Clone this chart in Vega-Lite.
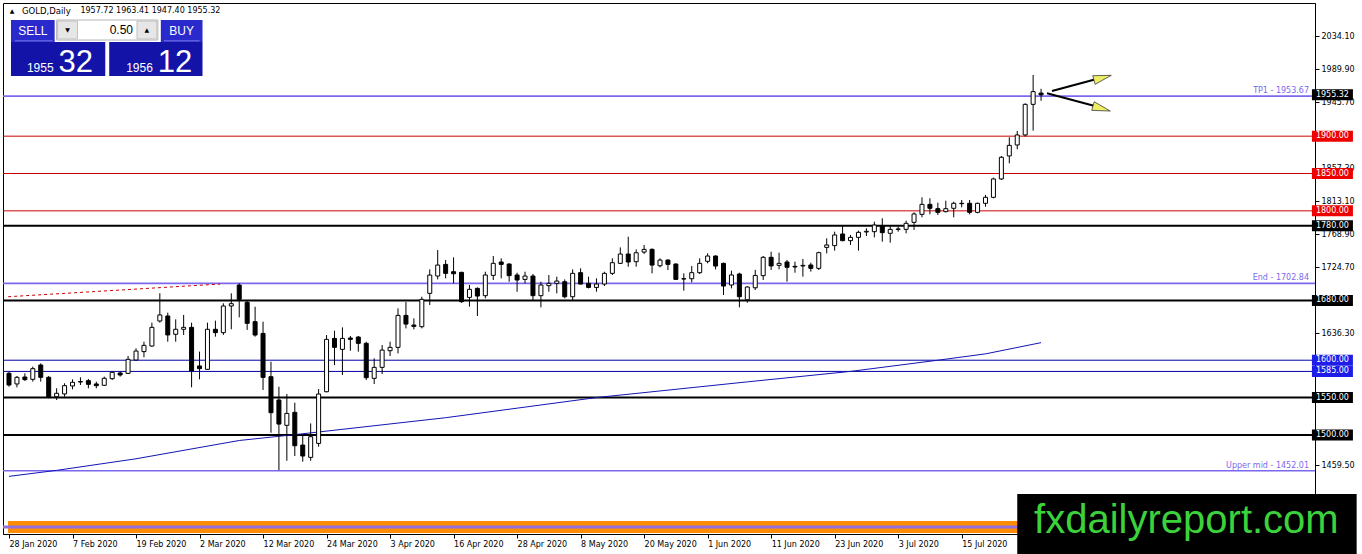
{
  "$schema": "https://vega.github.io/schema/vega-lite/v6.json",
  "width": 1312,
  "height": 531,
  "autosize": {"type": "none"},
  "padding": {"left": 3, "top": 3, "right": 47, "bottom": 20},
  "background": "#ffffff",
  "resolve": {"axis": {"x": "independent", "y": "independent"}},
  "datasets": {
    "candles": [
      {"d": "2020-01-28", "i": 0, "o": 1582.5, "h": 1584.7, "l": 1564.6, "c": 1566.8},
      {"d": "2020-01-29", "i": 1, "o": 1568.2, "h": 1578.9, "l": 1563.7, "c": 1577.1},
      {"d": "2020-01-30", "i": 2, "o": 1577.5, "h": 1582.4, "l": 1572.2, "c": 1574.0},
      {"d": "2020-01-31", "i": 3, "o": 1574.4, "h": 1591.4, "l": 1571.3, "c": 1588.7},
      {"d": "2020-02-03", "i": 4, "o": 1593.6, "h": 1595.8, "l": 1571.3, "c": 1577.1},
      {"d": "2020-02-04", "i": 5, "o": 1577.1, "h": 1578.9, "l": 1549.0, "c": 1550.3},
      {"d": "2020-02-05", "i": 6, "o": 1551.2, "h": 1562.4, "l": 1546.7, "c": 1555.7},
      {"d": "2020-02-06", "i": 7, "o": 1554.8, "h": 1569.1, "l": 1551.2, "c": 1565.9},
      {"d": "2020-02-07", "i": 8, "o": 1565.5, "h": 1574.4, "l": 1561.0, "c": 1570.4},
      {"d": "2020-02-10", "i": 9, "o": 1571.3, "h": 1577.1, "l": 1566.8, "c": 1570.8},
      {"d": "2020-02-11", "i": 10, "o": 1572.6, "h": 1574.9, "l": 1562.4, "c": 1567.7},
      {"d": "2020-02-12", "i": 11, "o": 1568.2, "h": 1571.3, "l": 1562.4, "c": 1565.9},
      {"d": "2020-02-13", "i": 12, "o": 1566.4, "h": 1578.0, "l": 1565.5, "c": 1575.8},
      {"d": "2020-02-14", "i": 13, "o": 1575.3, "h": 1584.7, "l": 1573.5, "c": 1583.8},
      {"d": "2020-02-17", "i": 14, "o": 1582.9, "h": 1584.7, "l": 1578.0, "c": 1580.2},
      {"d": "2020-02-18", "i": 15, "o": 1582.4, "h": 1605.7, "l": 1581.6, "c": 1601.2},
      {"d": "2020-02-19", "i": 16, "o": 1600.3, "h": 1615.9, "l": 1599.4, "c": 1612.3},
      {"d": "2020-02-20", "i": 17, "o": 1611.5, "h": 1624.8, "l": 1603.9, "c": 1619.9},
      {"d": "2020-02-21", "i": 18, "o": 1619.0, "h": 1650.3, "l": 1618.1, "c": 1644.0},
      {"d": "2020-02-24", "i": 19, "o": 1652.5, "h": 1689.6, "l": 1650.3, "c": 1660.6},
      {"d": "2020-02-25", "i": 20, "o": 1659.2, "h": 1663.7, "l": 1624.8, "c": 1633.8},
      {"d": "2020-02-26", "i": 21, "o": 1634.7, "h": 1654.7, "l": 1624.8, "c": 1641.4},
      {"d": "2020-02-27", "i": 22, "o": 1641.4, "h": 1660.6, "l": 1633.8, "c": 1644.0},
      {"d": "2020-02-28", "i": 23, "o": 1644.0, "h": 1650.3, "l": 1563.7, "c": 1585.6},
      {"d": "2020-03-02", "i": 24, "o": 1592.3, "h": 1611.5, "l": 1574.4, "c": 1588.7},
      {"d": "2020-03-03", "i": 25, "o": 1587.8, "h": 1650.3, "l": 1586.9, "c": 1641.4},
      {"d": "2020-03-04", "i": 26, "o": 1641.4, "h": 1653.0, "l": 1631.5, "c": 1636.9},
      {"d": "2020-03-05", "i": 27, "o": 1636.9, "h": 1676.2, "l": 1633.8, "c": 1672.6},
      {"d": "2020-03-06", "i": 28, "o": 1672.6, "h": 1689.6, "l": 1641.4, "c": 1675.7},
      {"d": "2020-03-09", "i": 29, "o": 1700.7, "h": 1703.0, "l": 1657.4, "c": 1681.5},
      {"d": "2020-03-10", "i": 30, "o": 1677.5, "h": 1680.6, "l": 1640.5, "c": 1649.4},
      {"d": "2020-03-11", "i": 31, "o": 1651.6, "h": 1671.6, "l": 1631.5, "c": 1633.7},
      {"d": "2020-03-12", "i": 32, "o": 1635.9, "h": 1651.6, "l": 1560.1, "c": 1577.0},
      {"d": "2020-03-13", "i": 33, "o": 1577.9, "h": 1598.0, "l": 1502.9, "c": 1529.7},
      {"d": "2020-03-16", "i": 34, "o": 1546.7, "h": 1564.5, "l": 1452.9, "c": 1514.5},
      {"d": "2020-03-17", "i": 35, "o": 1512.8, "h": 1554.7, "l": 1465.4, "c": 1528.8},
      {"d": "2020-03-18", "i": 36, "o": 1530.2, "h": 1543.1, "l": 1471.7, "c": 1485.5},
      {"d": "2020-03-19", "i": 37, "o": 1486.4, "h": 1499.8, "l": 1464.1, "c": 1471.7},
      {"d": "2020-03-20", "i": 38, "o": 1469.9, "h": 1515.4, "l": 1465.4, "c": 1497.6},
      {"d": "2020-03-23", "i": 39, "o": 1488.6, "h": 1561.4, "l": 1484.2, "c": 1554.7},
      {"d": "2020-03-24", "i": 40, "o": 1557.8, "h": 1633.7, "l": 1557.0, "c": 1627.9},
      {"d": "2020-03-25", "i": 41, "o": 1629.2, "h": 1639.5, "l": 1593.5, "c": 1617.2},
      {"d": "2020-03-26", "i": 42, "o": 1614.5, "h": 1644.0, "l": 1580.2, "c": 1629.2},
      {"d": "2020-03-27", "i": 43, "o": 1629.7, "h": 1632.4, "l": 1612.7, "c": 1627.9},
      {"d": "2020-03-30", "i": 44, "o": 1631.0, "h": 1632.4, "l": 1611.4, "c": 1622.6},
      {"d": "2020-03-31", "i": 45, "o": 1622.6, "h": 1624.8, "l": 1573.5, "c": 1576.6},
      {"d": "2020-04-01", "i": 46, "o": 1575.7, "h": 1602.5, "l": 1568.1, "c": 1590.4},
      {"d": "2020-04-02", "i": 47, "o": 1590.4, "h": 1620.3, "l": 1581.5, "c": 1613.6},
      {"d": "2020-04-03", "i": 48, "o": 1612.7, "h": 1624.8, "l": 1605.6, "c": 1617.2},
      {"d": "2020-04-06", "i": 49, "o": 1617.2, "h": 1669.4, "l": 1609.1, "c": 1660.0},
      {"d": "2020-04-07", "i": 50, "o": 1660.0, "h": 1677.9, "l": 1642.6, "c": 1648.4},
      {"d": "2020-04-08", "i": 51, "o": 1647.1, "h": 1656.0, "l": 1641.3, "c": 1645.3},
      {"d": "2020-04-09", "i": 52, "o": 1644.9, "h": 1685.0, "l": 1642.6, "c": 1681.5},
      {"d": "2020-04-13", "i": 53, "o": 1689.5, "h": 1721.6, "l": 1673.9, "c": 1714.0},
      {"d": "2020-04-14", "i": 54, "o": 1712.7, "h": 1747.5, "l": 1708.2, "c": 1727.4},
      {"d": "2020-04-15", "i": 55, "o": 1728.3, "h": 1734.1, "l": 1709.6, "c": 1716.3},
      {"d": "2020-04-16", "i": 56, "o": 1718.5, "h": 1737.7, "l": 1702.9, "c": 1715.8},
      {"d": "2020-04-17", "i": 57, "o": 1717.6, "h": 1718.5, "l": 1677.0, "c": 1678.3},
      {"d": "2020-04-20", "i": 58, "o": 1684.1, "h": 1700.7, "l": 1671.7, "c": 1694.9},
      {"d": "2020-04-21", "i": 59, "o": 1696.2, "h": 1697.5, "l": 1659.2, "c": 1685.9},
      {"d": "2020-04-22", "i": 60, "o": 1686.4, "h": 1718.5, "l": 1682.8, "c": 1714.1},
      {"d": "2020-04-23", "i": 61, "o": 1713.6, "h": 1739.5, "l": 1707.4, "c": 1729.7},
      {"d": "2020-04-24", "i": 62, "o": 1731.5, "h": 1736.4, "l": 1709.6, "c": 1728.3},
      {"d": "2020-04-27", "i": 63, "o": 1728.8, "h": 1729.7, "l": 1705.1, "c": 1713.2},
      {"d": "2020-04-28", "i": 64, "o": 1714.1, "h": 1717.2, "l": 1691.7, "c": 1707.4},
      {"d": "2020-04-29", "i": 65, "o": 1708.2, "h": 1718.5, "l": 1702.9, "c": 1712.7},
      {"d": "2020-04-30", "i": 66, "o": 1712.7, "h": 1715.4, "l": 1680.6, "c": 1686.4},
      {"d": "2020-05-01", "i": 67, "o": 1686.4, "h": 1705.1, "l": 1670.8, "c": 1700.7},
      {"d": "2020-05-04", "i": 68, "o": 1699.8, "h": 1714.1, "l": 1691.7, "c": 1702.9},
      {"d": "2020-05-05", "i": 69, "o": 1702.9, "h": 1711.8, "l": 1689.5, "c": 1706.0},
      {"d": "2020-05-06", "i": 70, "o": 1705.1, "h": 1708.2, "l": 1682.8, "c": 1685.0},
      {"d": "2020-05-07", "i": 71, "o": 1685.0, "h": 1721.6, "l": 1680.6, "c": 1716.3},
      {"d": "2020-05-08", "i": 72, "o": 1717.2, "h": 1723.0, "l": 1701.6, "c": 1702.0},
      {"d": "2020-05-11", "i": 73, "o": 1702.9, "h": 1711.8, "l": 1696.2, "c": 1697.5},
      {"d": "2020-05-12", "i": 74, "o": 1697.5, "h": 1709.6, "l": 1691.7, "c": 1702.0},
      {"d": "2020-05-13", "i": 75, "o": 1702.0, "h": 1718.5, "l": 1699.3, "c": 1716.3},
      {"d": "2020-05-14", "i": 76, "o": 1716.3, "h": 1736.4, "l": 1714.1, "c": 1730.6},
      {"d": "2020-05-15", "i": 77, "o": 1729.7, "h": 1751.1, "l": 1728.8, "c": 1742.2},
      {"d": "2020-05-18", "i": 78, "o": 1742.2, "h": 1765.4, "l": 1725.2, "c": 1731.5},
      {"d": "2020-05-19", "i": 79, "o": 1731.9, "h": 1748.4, "l": 1725.2, "c": 1743.9},
      {"d": "2020-05-20", "i": 80, "o": 1744.8, "h": 1754.2, "l": 1742.2, "c": 1748.4},
      {"d": "2020-05-21", "i": 81, "o": 1748.4, "h": 1749.8, "l": 1716.3, "c": 1727.4},
      {"d": "2020-05-22", "i": 82, "o": 1726.5, "h": 1736.4, "l": 1724.3, "c": 1734.1},
      {"d": "2020-05-25", "i": 83, "o": 1734.1, "h": 1735.0, "l": 1720.7, "c": 1728.3},
      {"d": "2020-05-26", "i": 84, "o": 1728.8, "h": 1729.7, "l": 1707.4, "c": 1708.2},
      {"d": "2020-05-27", "i": 85, "o": 1709.1, "h": 1716.3, "l": 1693.1, "c": 1708.7},
      {"d": "2020-05-28", "i": 86, "o": 1709.1, "h": 1726.1, "l": 1704.2, "c": 1717.2},
      {"d": "2020-05-29", "i": 87, "o": 1717.2, "h": 1736.4, "l": 1715.4, "c": 1729.7},
      {"d": "2020-06-01", "i": 88, "o": 1732.4, "h": 1743.1, "l": 1729.7, "c": 1739.5},
      {"d": "2020-06-02", "i": 89, "o": 1739.5, "h": 1740.4, "l": 1721.6, "c": 1726.1},
      {"d": "2020-06-03", "i": 90, "o": 1729.7, "h": 1730.6, "l": 1687.3, "c": 1699.3},
      {"d": "2020-06-04", "i": 91, "o": 1700.7, "h": 1719.9, "l": 1696.2, "c": 1714.1},
      {"d": "2020-06-05", "i": 92, "o": 1715.4, "h": 1717.2, "l": 1670.8, "c": 1685.0},
      {"d": "2020-06-08", "i": 93, "o": 1681.0, "h": 1699.0, "l": 1677.0, "c": 1698.0},
      {"d": "2020-06-09", "i": 94, "o": 1697.0, "h": 1721.0, "l": 1694.0, "c": 1713.5},
      {"d": "2020-06-10", "i": 95, "o": 1713.2, "h": 1739.5, "l": 1707.4, "c": 1737.8},
      {"d": "2020-06-11", "i": 96, "o": 1737.8, "h": 1745.3, "l": 1720.8, "c": 1726.2},
      {"d": "2020-06-12", "i": 97, "o": 1727.0, "h": 1744.0, "l": 1721.7, "c": 1729.7},
      {"d": "2020-06-15", "i": 98, "o": 1731.5, "h": 1734.2, "l": 1705.2, "c": 1724.4},
      {"d": "2020-06-16", "i": 99, "o": 1725.7, "h": 1732.0, "l": 1717.2, "c": 1724.8},
      {"d": "2020-06-17", "i": 100, "o": 1726.2, "h": 1735.5, "l": 1711.9, "c": 1727.0},
      {"d": "2020-06-18", "i": 101, "o": 1727.5, "h": 1730.6, "l": 1718.6, "c": 1723.0},
      {"d": "2020-06-19", "i": 102, "o": 1723.0, "h": 1745.3, "l": 1720.8, "c": 1744.0},
      {"d": "2020-06-22", "i": 103, "o": 1751.1, "h": 1763.2, "l": 1743.1, "c": 1754.3},
      {"d": "2020-06-23", "i": 104, "o": 1753.4, "h": 1772.1, "l": 1746.7, "c": 1767.7},
      {"d": "2020-06-24", "i": 105, "o": 1769.0, "h": 1781.0, "l": 1759.2, "c": 1760.1},
      {"d": "2020-06-25", "i": 106, "o": 1760.1, "h": 1767.7, "l": 1754.3, "c": 1764.5},
      {"d": "2020-06-26", "i": 107, "o": 1764.5, "h": 1773.5, "l": 1746.7, "c": 1771.2},
      {"d": "2020-06-29", "i": 108, "o": 1771.7, "h": 1776.6, "l": 1766.3, "c": 1772.6},
      {"d": "2020-06-30", "i": 109, "o": 1772.1, "h": 1785.5, "l": 1764.5, "c": 1781.0},
      {"d": "2020-07-01", "i": 110, "o": 1779.7, "h": 1790.0, "l": 1758.7, "c": 1770.8},
      {"d": "2020-07-02", "i": 111, "o": 1769.9, "h": 1779.7, "l": 1757.4, "c": 1775.2},
      {"d": "2020-07-03", "i": 112, "o": 1775.2, "h": 1778.8, "l": 1772.1, "c": 1775.7},
      {"d": "2020-07-06", "i": 113, "o": 1775.2, "h": 1786.9, "l": 1769.9, "c": 1783.3},
      {"d": "2020-07-07", "i": 114, "o": 1784.6, "h": 1798.0, "l": 1774.4, "c": 1795.8},
      {"d": "2020-07-08", "i": 115, "o": 1795.3, "h": 1818.1, "l": 1791.3, "c": 1808.7},
      {"d": "2020-07-09", "i": 116, "o": 1808.7, "h": 1816.8, "l": 1795.3, "c": 1803.4},
      {"d": "2020-07-10", "i": 117, "o": 1802.9, "h": 1810.9, "l": 1794.4, "c": 1798.0},
      {"d": "2020-07-13", "i": 118, "o": 1798.9, "h": 1813.6, "l": 1798.0, "c": 1802.9},
      {"d": "2020-07-14", "i": 119, "o": 1803.4, "h": 1812.3, "l": 1791.3, "c": 1810.1},
      {"d": "2020-07-15", "i": 120, "o": 1810.1, "h": 1814.5, "l": 1804.7, "c": 1809.6},
      {"d": "2020-07-16", "i": 121, "o": 1810.1, "h": 1814.5, "l": 1795.3, "c": 1798.0},
      {"d": "2020-07-17", "i": 122, "o": 1798.0, "h": 1810.9, "l": 1796.7, "c": 1810.1},
      {"d": "2020-07-20", "i": 123, "o": 1810.1, "h": 1821.3, "l": 1805.6, "c": 1818.1},
      {"d": "2020-07-21", "i": 124, "o": 1818.1, "h": 1844.5, "l": 1816.8, "c": 1842.7},
      {"d": "2020-07-22", "i": 125, "o": 1842.7, "h": 1873.5, "l": 1841.3, "c": 1871.7},
      {"d": "2020-07-23", "i": 126, "o": 1873.5, "h": 1898.5, "l": 1863.6, "c": 1887.7},
      {"d": "2020-07-24", "i": 127, "o": 1888.2, "h": 1906.9, "l": 1882.4, "c": 1901.6},
      {"d": "2020-07-27", "i": 128, "o": 1901.6, "h": 1944.0, "l": 1899.4, "c": 1942.6},
      {"d": "2020-07-28", "i": 129, "o": 1942.6, "h": 1981.9, "l": 1907.4, "c": 1959.6},
      {"d": "2020-07-29", "i": 130, "o": 1957.72, "h": 1963.41, "l": 1947.4, "c": 1955.32}
    ],
    "levels": [
      {"p": 1953.67, "kind": "fib", "label": "TP1 - 1953.67"},
      {"p": 1702.84, "kind": "fib", "label": "End - 1702.84"},
      {"p": 1452.01, "kind": "fib", "label": "Upper mid - 1452.01"},
      {"p": 1900, "kind": "resistance", "label": ""},
      {"p": 1850, "kind": "resistance", "label": ""},
      {"p": 1800, "kind": "resistance", "label": ""},
      {"p": 1780, "kind": "key", "label": ""},
      {"p": 1680, "kind": "key", "label": ""},
      {"p": 1550, "kind": "key", "label": ""},
      {"p": 1500, "kind": "key", "label": ""},
      {"p": 1600, "kind": "support", "label": ""},
      {"p": 1585, "kind": "support", "label": ""}
    ],
    "tags": [
      {"p": 1955.32, "kind": "price"},
      {"p": 1900, "kind": "resistance"},
      {"p": 1850, "kind": "resistance"},
      {"p": 1800, "kind": "resistance"},
      {"p": 1780, "kind": "key"},
      {"p": 1680, "kind": "key"},
      {"p": 1600, "kind": "support"},
      {"p": 1585, "kind": "support"},
      {"p": 1550, "kind": "key"},
      {"p": 1500, "kind": "key"}
    ],
    "ma": [
      {"i": 0, "ma": 1444.5},
      {"i": 6, "ma": 1452.5},
      {"i": 16, "ma": 1468},
      {"i": 29, "ma": 1492.5},
      {"i": 37, "ma": 1501.5},
      {"i": 55, "ma": 1523},
      {"i": 74, "ma": 1550},
      {"i": 93, "ma": 1571},
      {"i": 106, "ma": 1585},
      {"i": 117, "ma": 1600},
      {"i": 123, "ma": 1608.5},
      {"i": 130, "ma": 1623.5}
    ],
    "trend": [
      {"i": -0.1, "p": 1685.0},
      {"i": 26.6, "p": 1702.0}
    ],
    "band": [
      {"lo": 1368.7, "hi": 1384.7, "mid": 1376.6}
    ],
    "one": [{"n": 1}]
  },
  "layer": [
    {
      "data": {"name": "candles"},
      "mark": {"type": "rule", "stroke": "#000000", "strokeWidth": 1, "opacity": 0},
      "encoding": {
        "x": {
          "field": "i", "type": "quantitative",
          "scale": {"domain": [-0.125, 163.875], "nice": false, "zero": false},
          "axis": {
            "orient": "bottom",
            "title": null,
            "values": [0, 8, 16, 24, 32, 40, 48, 56, 64, 72, 80, 88, 96, 104, 112, 120],
            "labelExpr": "['28 Jan 2020','7 Feb 2020','19 Feb 2020','2 Mar 2020','12 Mar 2020','24 Mar 2020','3 Apr 2020','16 Apr 2020','28 Apr 2020','8 May 2020','20 May 2020','1 Jun 2020','11 Jun 2020','23 Jun 2020','3 Jul 2020','15 Jul 2020'][round(datum.value / 8)]",
            "labelAlign": "left",
            "labelBaseline": "top",
            "labelPadding": 2,
            "labelDx": -1,
            "labelFont": "DejaVu Sans",
            "labelFontSize": 8,
            "labelColor": "#000000",
            "labelFlush": false,
            "labelOverlap": false,
            "labelBound": false,
            "tickSize": 4,
            "tickColor": "#000000",
            "domainColor": "#000000",
            "grid": false
          }
        },
        "y": {
          "field": "l", "type": "quantitative",
          "scale": {"domain": [1367.3, 2078.3], "nice": false, "zero": false},
          "axis": {
            "orient": "right",
            "title": null,
            "values": [2034.1, 1989.9, 1945.7, 1857.3, 1813.1, 1768.9, 1724.7, 1636.3, 1459.5, 1415.3],
            "format": ".2f",
            "labelAlign": "left",
            "labelPadding": 2,
            "labelFont": "DejaVu Sans",
            "labelFontSize": 8,
            "labelColor": "#000000",
            "labelFlush": false,
            "labelOverlap": false,
            "tickSize": 4,
            "tickColor": "#000000",
            "domainColor": "#000000",
            "grid": false
          }
        },
        "y2": {"field": "h"}
      }
    },
    {
      "data": {"name": "band"},
      "mark": {"type": "rect", "fill": "#ff8c00"},
      "encoding": {
        "x": {"datum": -0.125, "axis": null},
        "x2": {"datum": 163.875},
        "y": {"field": "lo", "type": "quantitative", "axis": null},
        "y2": {"field": "hi"}
      }
    },
    {
      "data": {"name": "band"},
      "mark": {"type": "rule", "stroke": "#9370db", "strokeWidth": 3},
      "encoding": {
        "y": {"field": "mid", "type": "quantitative", "axis": null}
      }
    },
    {
      "data": {"name": "levels"},
      "transform": [{"filter": "datum.kind == 'fib'"}],
      "mark": {"type": "rule", "stroke": "#7b68ee", "strokeWidth": 1.6},
      "encoding": {"y": {"field": "p", "type": "quantitative", "axis": null}}
    },
    {
      "data": {"name": "levels"},
      "transform": [{"filter": "datum.kind == 'resistance'"}],
      "mark": {"type": "rule", "stroke": "#cc0000", "strokeWidth": 1},
      "encoding": {"y": {"field": "p", "type": "quantitative", "axis": null}}
    },
    {
      "data": {"name": "levels"},
      "transform": [{"filter": "datum.kind == 'key'"}],
      "mark": {"type": "rule", "stroke": "#000000", "strokeWidth": 2},
      "encoding": {"y": {"field": "p", "type": "quantitative", "axis": null}}
    },
    {
      "data": {"name": "levels"},
      "transform": [{"filter": "datum.kind == 'support'"}],
      "mark": {"type": "rule", "stroke": "#0000a8", "strokeWidth": 1},
      "encoding": {"y": {"field": "p", "type": "quantitative", "axis": null}}
    },
    {
      "data": {"name": "ma"},
      "mark": {"type": "line", "stroke": "#1414b4", "strokeWidth": 1},
      "encoding": {
        "x": {"field": "i", "type": "quantitative", "axis": null},
        "y": {"field": "ma", "type": "quantitative", "axis": null}
      }
    },
    {
      "data": {"name": "trend"},
      "mark": {"type": "line", "stroke": "#cc0000", "strokeWidth": 1, "strokeDash": [3, 3]},
      "encoding": {
        "x": {"field": "i", "type": "quantitative", "axis": null},
        "y": {"field": "p", "type": "quantitative", "axis": null}
      }
    },
    {
      "data": {"name": "candles"},
      "mark": {"type": "rule", "stroke": "#000000", "strokeWidth": 1},
      "encoding": {
        "x": {"field": "i", "type": "quantitative", "axis": null},
        "y": {"field": "l", "type": "quantitative", "axis": null},
        "y2": {"field": "h"}
      }
    },
    {
      "data": {"name": "candles"},
      "mark": {"type": "bar", "width": 4, "stroke": "#000000", "strokeWidth": 1},
      "encoding": {
        "x": {"field": "i", "type": "quantitative", "axis": null},
        "y": {"field": "o", "type": "quantitative", "axis": null},
        "y2": {"field": "c"},
        "fill": {
          "condition": {"test": "datum.c >= datum.o", "value": "#ffffff"},
          "value": "#000000"
        }
      }
    },
    {
      "data": {"name": "levels"},
      "transform": [{"filter": "datum.kind == 'fib'"}],
      "mark": {"type": "text", "align": "right", "baseline": "bottom", "dx": -1, "dy": -1, "font": "DejaVu Sans", "fontSize": 8, "fill": "#7b68ee"},
      "encoding": {
        "x": {"datum": 163.875, "axis": null},
        "y": {"field": "p", "type": "quantitative", "axis": null},
        "text": {"field": "label"}
      }
    },
    {
      "data": {"name": "one"},
      "mark": {"type": "rule", "stroke": "#000000", "strokeWidth": 2},
      "encoding": {
        "x": {"datum": 131.375, "axis": null}, "x2": {"datum": 137.0},
        "y": {"datum": 1960.4, "axis": null}, "y2": {"datum": 1976.5}
      }
    },
    {
      "data": {"name": "one"},
      "mark": {"type": "rule", "stroke": "#000000", "strokeWidth": 2},
      "encoding": {
        "x": {"datum": 130.75, "axis": null}, "x2": {"datum": 137.0},
        "y": {"datum": 1957.4, "axis": null}, "y2": {"datum": 1939.7}
      }
    },
    {
      "data": {"name": "one"},
      "mark": {"type": "point", "shape": "M-1,-0.5L1,0L-1,0.5Z", "size": 324, "angle": -15, "filled": true, "fill": "#eeee66", "stroke": "#333333", "strokeWidth": 0.7, "opacity": 1},
      "encoding": {
        "x": {"datum": 137.75, "axis": null},
        "y": {"datum": 1978.3, "axis": null}
      }
    },
    {
      "data": {"name": "one"},
      "mark": {"type": "point", "shape": "M-1,-0.5L1,0L-1,0.5Z", "size": 324, "angle": 16, "filled": true, "fill": "#eeee66", "stroke": "#333333", "strokeWidth": 0.7, "opacity": 1},
      "encoding": {
        "x": {"datum": 137.625, "axis": null},
        "y": {"datum": 1937.0, "axis": null}
      }
    },
    {
      "data": {"name": "one"},
      "mark": {"type": "rect", "fill": "#000000"},
      "encoding": {
        "x": {"datum": 127.0, "axis": null}, "x2": {"datum": 169.75},
        "y": {"datum": 1420.8, "axis": null}, "y2": {"datum": 1340.5}
      }
    },
    {
      "data": {"name": "one"},
      "mark": {"type": "text", "text": "fxdailyreport.com", "align": "left", "baseline": "alphabetic", "font": "Liberation Sans", "fontSize": 40, "fill": "#3cd23c"},
      "encoding": {
        "x": {"datum": 129.125, "axis": null},
        "y": {"datum": 1368.6, "axis": null}
      }
    },
    {
      "data": {"name": "tags"},
      "mark": {"type": "tick", "orient": "horizontal", "size": 41, "thickness": 11, "opacity": 1},
      "encoding": {
        "x": {"datum": 166.7, "axis": null},
        "y": {"field": "p", "type": "quantitative", "axis": null},
        "fill": {
          "field": "kind", "type": "nominal", "legend": null,
          "scale": {"domain": ["price", "resistance", "key", "support"], "range": ["#000000", "#ee0000", "#000000", "#1e1ee8"]}
        }
      }
    },
    {
      "data": {"name": "tags"},
      "mark": {"type": "text", "align": "center", "baseline": "middle", "font": "DejaVu Sans", "fontSize": 8, "fill": "#ffffff"},
      "encoding": {
        "x": {"datum": 166.7, "axis": null},
        "y": {"field": "p", "type": "quantitative", "axis": null},
        "text": {"field": "p", "type": "quantitative", "format": ".2f"}
      }
    },
    {
      "data": {"name": "one"},
      "mark": {"type": "rect", "fill": "#1313a8"},
      "encoding": {
        "x": {"datum": 0.25, "axis": null}, "x2": {"datum": 12.125},
        "y": {"datum": 2026.1, "axis": null}, "y2": {"datum": 1980.5}
      }
    },
    {
      "data": {"name": "one"},
      "mark": {"type": "rect", "fill": "#1313a8"},
      "encoding": {
        "x": {"datum": 12.625, "axis": null}, "x2": {"datum": 24.375},
        "y": {"datum": 2026.1, "axis": null}, "y2": {"datum": 1980.5}
      }
    },
    {
      "data": {"name": "one"},
      "mark": {"type": "rect", "fill": "#2a2acc"},
      "encoding": {
        "x": {"datum": 0.25, "axis": null}, "x2": {"datum": 5.75},
        "y": {"datum": 2055.5, "axis": null}, "y2": {"datum": 2026.1}
      }
    },
    {
      "data": {"name": "one"},
      "mark": {"type": "rect", "fill": "#2a2acc"},
      "encoding": {
        "x": {"datum": 19.125, "axis": null}, "x2": {"datum": 24.375},
        "y": {"datum": 2055.5, "axis": null}, "y2": {"datum": 2026.1}
      }
    },
    {
      "data": {"name": "one"},
      "mark": {"type": "rule", "stroke": "#7a7ae8", "strokeWidth": 1},
      "encoding": {
        "x": {"datum": 0.75, "axis": null}, "x2": {"datum": 5.5},
        "y": {"datum": 2027.6, "axis": null}
      }
    },
    {
      "data": {"name": "one"},
      "mark": {"type": "rule", "stroke": "#7a7ae8", "strokeWidth": 1},
      "encoding": {
        "x": {"datum": 19.5, "axis": null}, "x2": {"datum": 24.0},
        "y": {"datum": 2027.6, "axis": null}
      }
    },
    {
      "data": {"name": "one"},
      "mark": {"type": "rect", "fill": "#ffffff", "stroke": "#b4b4b4", "strokeWidth": 1},
      "encoding": {
        "x": {"datum": 6.0, "axis": null}, "x2": {"datum": 18.75},
        "y": {"datum": 2055.5, "axis": null}, "y2": {"datum": 2028.7}
      }
    },
    {
      "data": {"name": "one"},
      "mark": {"type": "rect", "fill": "#e6e6e6", "stroke": "#c0c0c0", "strokeWidth": 1},
      "encoding": {
        "x": {"datum": 6.125, "axis": null}, "x2": {"datum": 8.625},
        "y": {"datum": 2054.2, "axis": null}, "y2": {"datum": 2030.1}
      }
    },
    {
      "data": {"name": "one"},
      "mark": {"type": "rect", "fill": "#e6e6e6", "stroke": "#c0c0c0", "strokeWidth": 1},
      "encoding": {
        "x": {"datum": 16.125, "axis": null}, "x2": {"datum": 18.625},
        "y": {"datum": 2054.2, "axis": null}, "y2": {"datum": 2030.1}
      }
    },
    {
      "data": {"name": "one"},
      "mark": {"type": "text", "text": "SELL", "align": "center", "baseline": "middle", "font": "Liberation Sans", "fontSize": 12, "fill": "#ffffff"},
      "encoding": {"x": {"datum": 3.0, "axis": null}, "y": {"datum": 2040.8, "axis": null}}
    },
    {
      "data": {"name": "one"},
      "mark": {"type": "text", "text": "BUY", "align": "center", "baseline": "middle", "font": "Liberation Sans", "fontSize": 12, "fill": "#ffffff"},
      "encoding": {"x": {"datum": 21.75, "axis": null}, "y": {"datum": 2040.8, "axis": null}}
    },
    {
      "data": {"name": "one"},
      "mark": {"type": "text", "text": "0.50", "align": "right", "baseline": "middle", "font": "Liberation Sans", "fontSize": 12, "fill": "#000000"},
      "encoding": {"x": {"datum": 15.625, "axis": null}, "y": {"datum": 2042.1, "axis": null}}
    },
    {
      "data": {"name": "one"},
      "mark": {"type": "text", "text": "▼", "align": "center", "baseline": "middle", "font": "DejaVu Sans", "fontSize": 6, "fill": "#000000"},
      "encoding": {"x": {"datum": 7.375, "axis": null}, "y": {"datum": 2042.1, "axis": null}}
    },
    {
      "data": {"name": "one"},
      "mark": {"type": "text", "text": "▲", "align": "center", "baseline": "middle", "font": "DejaVu Sans", "fontSize": 6, "fill": "#000000"},
      "encoding": {"x": {"datum": 17.375, "axis": null}, "y": {"datum": 2042.1, "axis": null}}
    },
    {
      "data": {"name": "one"},
      "mark": {"type": "text", "text": "1955", "align": "right", "baseline": "alphabetic", "font": "Liberation Sans", "fontSize": 12, "fill": "#ffffff"},
      "encoding": {"x": {"datum": 5.625, "axis": null}, "y": {"datum": 1985.9, "axis": null}}
    },
    {
      "data": {"name": "one"},
      "mark": {"type": "text", "text": "32", "align": "left", "baseline": "alphabetic", "font": "Liberation Sans", "fontSize": 31, "fill": "#ffffff"},
      "encoding": {"x": {"datum": 6.25, "axis": null}, "y": {"datum": 1985.9, "axis": null}}
    },
    {
      "data": {"name": "one"},
      "mark": {"type": "text", "text": "1956", "align": "right", "baseline": "alphabetic", "font": "Liberation Sans", "fontSize": 12, "fill": "#ffffff"},
      "encoding": {"x": {"datum": 18.125, "axis": null}, "y": {"datum": 1985.9, "axis": null}}
    },
    {
      "data": {"name": "one"},
      "mark": {"type": "text", "text": "12", "align": "left", "baseline": "alphabetic", "font": "Liberation Sans", "fontSize": 31, "fill": "#ffffff"},
      "encoding": {"x": {"datum": 18.75, "axis": null}, "y": {"datum": 1985.9, "axis": null}}
    },
    {
      "data": {"name": "one"},
      "mark": {"type": "text", "text": "▲", "align": "center", "baseline": "middle", "font": "DejaVu Sans", "fontSize": 6, "fill": "#000000"},
      "encoding": {"x": {"datum": 0.375, "axis": null}, "y": {"datum": 2067.6, "axis": null}}
    },
    {
      "data": {"name": "one"},
      "mark": {"type": "text", "text": "GOLD,Daily", "align": "left", "baseline": "middle", "font": "DejaVu Sans", "fontSize": 8.5, "fill": "#000000"},
      "encoding": {"x": {"datum": 1.625, "axis": null}, "y": {"datum": 2067.6, "axis": null}}
    },
    {
      "data": {"name": "one"},
      "mark": {"type": "text", "text": "1957.72 1963.41 1947.40 1955.32", "align": "left", "baseline": "middle", "font": "DejaVu Sans", "fontSize": 8, "fill": "#000000"},
      "encoding": {"x": {"datum": 9.0, "axis": null}, "y": {"datum": 2067.6, "axis": null}}
    }
  ],
  "config": {
    "view": {"stroke": "#000000", "strokeWidth": 1},
    "text": {"font": "DejaVu Sans"}
  }
}
